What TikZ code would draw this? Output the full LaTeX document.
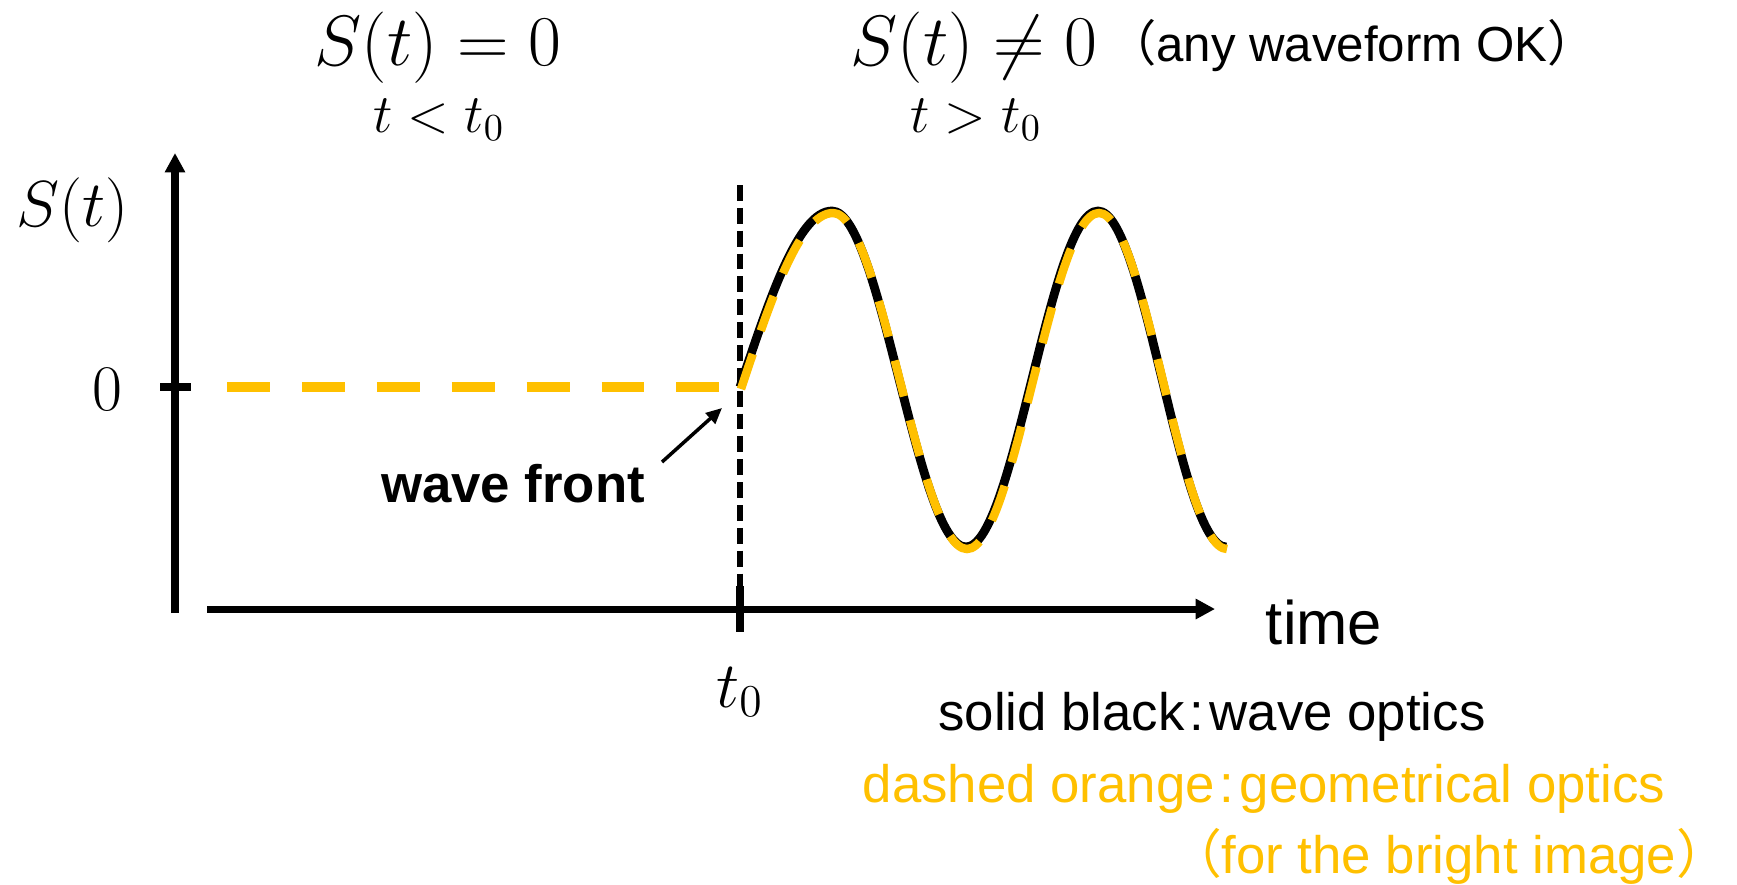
\RequirePackage{fix-cm}
\documentclass[tikz,border=0pt]{standalone}
\usepackage[no-math]{fontspec}
\newfontfamily\arial{Liberation Sans}
\newfontfamily\cjk{Noto Sans CJK JP}
\usepackage{tikz}
\usetikzlibrary{arrows.meta,positioning}
\definecolor{geo}{HTML}{FFC000}
\newcommand{\wavepath}{(740,387) sin (832,211) cos (899,379) sin (966,547)
  cos (1032,379) sin (1098,211) cos (1162,379) sin (1226,547)}

\begin{document}
\begin{tikzpicture}[x=0.01cm, y=-0.01cm,
  axis/.style={line width=2pt, -{Triangle[length=5.5pt, width=5.5pt]}},
  tickmark/.style={line width=2pt},
  front/.style={line width=1.7pt, dash pattern=on 4.5pt off 2pt},
  wave/.style={line width=2.5pt},
  geom/.style={draw=geo, line width=2.4pt, dash pattern=on 10.5pt off 7pt},
  zeroline/.style={draw=geo, line width=2.6pt, dash pattern=on 12.2pt off 9.1pt},
  ptr/.style={line width=1pt, -{Triangle[length=4.5pt, width=4pt]}},
  big/.style={font=\fontsize{20.3}{24}\selectfont, inner sep=0pt},
  cond/.style={font=\fontsize{15.5}{18}\selectfont, inner sep=0pt},
  axlbl/.style={font=\fontsize{18.5}{22}\selectfont, inner sep=0pt},
  lbl/.style={font=\arial\fontsize{15}{18}\selectfont, inner sep=0pt}]

\useasboundingbox (0,0) rectangle (1737,884);

% regions above the plot
\node[big] (s0) at (438,48) {$S(t)=0$};
\node[cond] (lt) at (439,120) {$t<t_0$};
\node[big] (s1) at (974,48) {$S(t)\neq0$};
\node[cond] (gt) at (976,120) {$t>t_0$};
\node[lbl, font=\arial\fontsize{14}{17}\selectfont] (any) at (1352,46)
  {{\cjk （}any waveform OK{\cjk ）}};

% axes
\coordinate (o) at (175,613);
\coordinate (ytop) at (175,153);
\coordinate (xo) at (207,609);
\coordinate (xend) at (1215,609);
\draw[axis] (o) -- (ytop);
\draw[axis] (xo) -- (xend);
\draw[tickmark] (160,387) -- (191,387);
\draw[tickmark] (740,586) -- (740,632);
\node[axlbl] (sy) at (73,210) {$S(t)$};
\node[axlbl] (zero) at (107,390) {$0$};
\node[axlbl] (tz) at (740,692) {$t_0$};
\node[lbl, font=\arial\fontsize{17.5}{20}\selectfont] (time) at (1324,622) {time};

% wave front at t0
\coordinate (ftop) at (740,185);
\coordinate (fbot) at (740,600);
\draw[front] (ftop) -- (fbot);
\draw[zeroline] (227,387) -- (720,387);

% signal: wave optics and geometrical optics
\draw[wave] \wavepath;
\begin{scope}[shift={(1,2)}]
  \draw[geom] \wavepath;
\end{scope}

\node[lbl, font=\arial\bfseries\fontsize{15}{18}\selectfont] (wf) at (513,484) {wave front};
\coordinate (wftail) at (662,462);
\coordinate (wftip) at (722,408);
\draw[ptr] (wftail) -- (wftip);

% legend
\node[lbl] (solid) at (1212,717) {solid black\kern1.5pt:\kern1.5pt wave optics};
\node[lbl, text=geo] (dash) at (1264,789) {dashed orange\kern1.5pt:\kern1.5pt geometrical optics};
\node[lbl, text=geo] (bright) at (1449,856) {{\cjk （}for the bright image{\cjk ）}};
\end{tikzpicture}
\end{document}
